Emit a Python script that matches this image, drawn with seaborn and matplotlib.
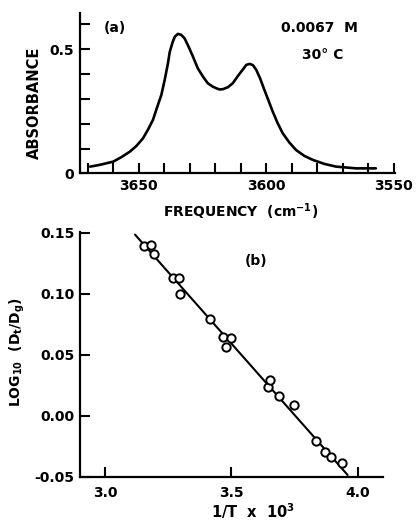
import numpy as np
import pandas as pd
import matplotlib
matplotlib.use("Agg")
import matplotlib.pyplot as plt
import seaborn as sns

# ---- data ----
# (a) IR absorbance spectrum
freq = [3669, 3665.3, 3660, 3656.8, 3653.5, 3650.9, 3648.3, 3646.4, 3644.4, 3642.9,
        3641.1, 3639.8, 3638.5, 3637.8, 3636.6, 3635.8, 3634.6, 3633.3, 3632.0, 3630.4,
        3628.7, 3626.8, 3624.8, 3622.9, 3620.9, 3619.6, 3618.3, 3617.0, 3615.0, 3613.1,
        3611.1, 3609.1, 3607.8, 3606.5, 3605.2, 3603.9, 3602.4, 3600.7, 3597.4, 3595.5,
        3593.5, 3590.9, 3588.3, 3585.0, 3581.7, 3577.2, 3572.6, 3564.7, 3557.0]
absorb = [0.027, 0.034, 0.047, 0.065, 0.087, 0.110, 0.141, 0.175, 0.215, 0.262,
          0.316, 0.376, 0.444, 0.490, 0.531, 0.551, 0.562, 0.558, 0.544, 0.510,
          0.470, 0.423, 0.390, 0.363, 0.349, 0.343, 0.338, 0.339, 0.347, 0.363,
          0.392, 0.419, 0.437, 0.441, 0.436, 0.417, 0.383, 0.336, 0.248, 0.202,
          0.161, 0.124, 0.094, 0.070, 0.054, 0.038, 0.027, 0.020, 0.020]
freq_ticks = [3670, 3660, 3650, 3640, 3630, 3620, 3610, 3600, 3590, 3580, 3570, 3560, 3550]
freq_labels = ["", "", "3650", "", "", "", "", "3600", "", "", "", "", "3550"]
abs_ticks = [0, 0.1, 0.2, 0.3, 0.4, 0.5, 0.6]
abs_labels = ["0", "", "", "", "", "0.5", ""]

# (b) van't Hoff plot
inv_t = [3.154, 3.180, 3.193, 3.270, 3.293, 3.296, 3.415, 3.467, 3.480, 3.497,
         3.645, 3.651, 3.687, 3.747, 3.833, 3.872, 3.895, 3.938]
log_ratio = [0.139, 0.140, 0.133, 0.113, 0.113, 0.100, 0.079, 0.0645, 0.056, 0.0637,
             0.024, 0.029, 0.016, 0.009, -0.021, -0.0295, -0.0336, -0.039]
fit_x = [3.118, 3.960]
fit_y = [0.1486, -0.0486]
t_ticks = [3.0, 3.5, 4.0]
t_labels = ["3.0", "3.5", "4.0"]
lr_ticks = [-0.05, 0.00, 0.05, 0.10, 0.15]
lr_labels = ["-0.05", "0.00", "0.05", "0.10", "0.15"]

spec = pd.DataFrame({"freq": freq, "abs": absorb})
pts = pd.DataFrame({"x": inv_t, "y": log_ratio})
fit = pd.DataFrame({"x": fit_x, "y": fit_y})

sns.set_theme(style="ticks")
plt.rcParams["font.family"] = ["DejaVu Sans"]
plt.rcParams["font.weight"] = "bold"
plt.rcParams["mathtext.fontset"] = "dejavusans"
plt.rcParams["mathtext.default"] = "bf"
for k in ("text.color", "axes.labelcolor", "xtick.color", "ytick.color", "axes.edgecolor"):
    plt.rcParams[k] = "black"

fig = plt.figure(figsize=(4.19, 5.23), dpi=100)
fig.patch.set_facecolor("white")

# ===============================
# (a) spectrum
# ===============================
ax1 = fig.add_axes([0.1909, 0.6686, 0.7518, 0.3065])
sns.lineplot(data=spec, x="freq", y="abs", ax=ax1, color="black", lw=1.9, sort=False)
ax1.set_xlim(3673, 3549.5)
ax1.set_ylim(0, 0.646)
ax1.set_xticks(freq_ticks)
ax1.set_xticklabels(freq_labels)
ax1.set_yticks(abs_ticks)
ax1.set_yticklabels(abs_labels)
ax1.set_xlabel("FREQUENCY  (cm$^{-1}$)", fontsize=10, fontweight="bold")
ax1.set_ylabel("ABSORBANCE", fontsize=10.5, fontweight="bold")
ax1.xaxis.set_label_coords(0.511, -0.178)
ax1.yaxis.set_label_coords(-0.121, 0.44)
ax1.text(3659.4, 0.585, "(a)", fontsize=10, fontweight="bold", ha="center", va="center")
ax1.text(3579, 0.585, "0.0067  M", fontsize=10, fontweight="bold", ha="center", va="center")
ax1.text(3578, 0.477, "30° C", fontsize=10, fontweight="bold", ha="center", va="center")

# ===============================
# (b) log ratio vs 1/T
# ===============================
ax2 = fig.add_axes([0.1909, 0.0885, 0.7232, 0.4685])
sns.lineplot(data=fit, x="x", y="y", ax=ax2, color="black", lw=1.5, zorder=2)
sns.scatterplot(data=pts, x="x", y="y", ax=ax2, marker="o", s=36,
                facecolor="white", edgecolor="black", linewidth=1.4, zorder=3)
ax2.set_xlim(2.90, 4.10)
ax2.set_ylim(-0.05, 0.151)
ax2.set_xticks(t_ticks)
ax2.set_xticklabels(t_labels)
ax2.set_yticks(lr_ticks)
ax2.set_yticklabels(lr_labels)
ax2.set_xlabel("1/T  x  10$^3$", fontsize=10.5, fontweight="bold")
ax2.set_ylabel("LOG$_{10}$  (D$_t$/D$_g$)", fontsize=10, fontweight="bold")
ax2.xaxis.set_label_coords(0.571, -0.100)
ax2.yaxis.set_label_coords(-0.175, 0.51)
ax2.text(3.599, 0.1267, "(b)", fontsize=10, fontweight="bold", ha="center", va="center")

for ax in (ax1, ax2):
    sns.despine(ax=ax)
    for s in ("left", "bottom"):
        ax.spines[s].set_linewidth(1.6)
        ax.spines[s].set_color("black")
    ax.tick_params(direction="in", length=7, width=1.5, color="black",
                   labelsize=10, labelcolor="black")
    for lab in ax.get_xticklabels() + ax.get_yticklabels():
        lab.set_fontweight("bold")
    ax.set_facecolor("white")
    ax.grid(False)

ax1.tick_params(axis="x", pad=4)
ax2.tick_params(axis="x", pad=7)
ax1.tick_params(axis="y", pad=4)
ax2.tick_params(axis="y", pad=4)

fig.savefig("out.png", dpi=100, facecolor="white")
